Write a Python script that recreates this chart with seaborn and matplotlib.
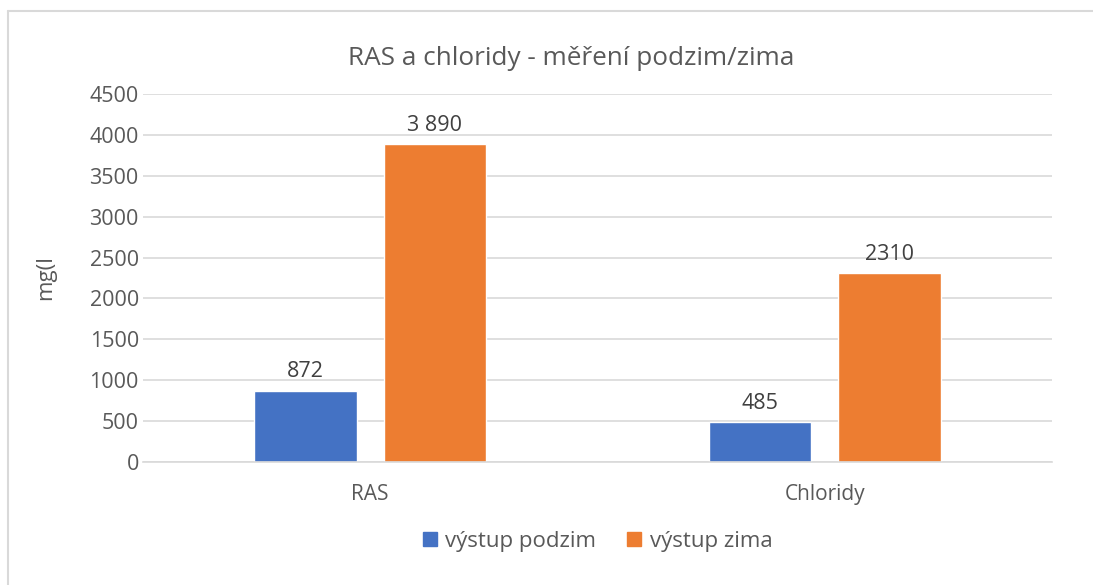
import pandas as pd
import matplotlib.pyplot as plt
import matplotlib.lines as mlines
import seaborn as sns

# data
categories = ['RAS', 'Chloridy']
series_names = ['výstup podzim', 'výstup zima']
podzim = [872, 485]
zima = [3890, 2310]
value_labels = [['872', '485'], ['3 890', '2310']]

colors = ['#4472C4', '#ED7D31']
text_col = '#595959'

df = pd.DataFrame({
    'kategorie': categories * 2,
    'serie': [series_names[0]] * 2 + [series_names[1]] * 2,
    'hodnota': podzim + zima,
})

sns.set_style('white')
plt.rcParams['font.family'] = ['Open Sans', 'DejaVu Sans']

fig = plt.figure(figsize=(10.93, 5.85), dpi=100)
ax = fig.add_axes([0.1308, 0.2103, 0.8317, 0.629])

sns.barplot(data=df, x='kategorie', y='hodnota', hue='serie', order=categories,
            hue_order=series_names, palette=colors, width=0.57, gap=0.21,
            saturation=1, ax=ax, legend=False)

ax.set_ylim(0, 4500)
ax.set_yticks(range(0, 4501, 500))
ax.set_xlim(-0.5, 1.5)
ax.grid(axis='y', color='#D9D9D9', linewidth=1.2)
ax.set_axisbelow(True)
for s in ['top', 'right', 'left']:
    ax.spines[s].set_visible(False)
ax.spines['bottom'].set_color('#D9D9D9')
ax.spines['bottom'].set_linewidth(1.2)
ax.tick_params(axis='y', length=0, labelsize=15.5, colors=text_col, pad=3)
ax.tick_params(axis='x', length=0, labelsize=15, colors=text_col, pad=16)
ax.set_xlabel('')
ax.set_ylabel('mg(l', fontsize=16, color=text_col)
ax.yaxis.set_label_coords(-0.095, 0.5)

for cont, labs in zip(ax.containers, value_labels):
    ax.bar_label(cont, labels=labs, padding=6, fontsize=15.5, color='#404040')

fig.text(0.523, 0.9, 'RAS a chloridy - měření podzim/zima', ha='center', va='center',
         fontsize=18.8, color=text_col)

handles = [mlines.Line2D([], [], marker='s', linestyle='none', markersize=9.5,
                         markerfacecolor=c, markeredgecolor=c) for c in colors]
fig.legend(handles, series_names, loc='center', bbox_to_anchor=(0.546, 0.075),
           ncol=2, frameon=False, fontsize=16, handlelength=0.8, handletextpad=0.3,
           columnspacing=1.3, labelcolor=text_col)

# chart border (top and left visible in reference)
fig.add_artist(mlines.Line2D([0.0075, 1], [0.981, 0.981], color='#D9D9D9', lw=1.5))
fig.add_artist(mlines.Line2D([0.0075, 0.0075], [0, 0.981], color='#D9D9D9', lw=1.5))

fig.savefig('out.png', dpi=100)
